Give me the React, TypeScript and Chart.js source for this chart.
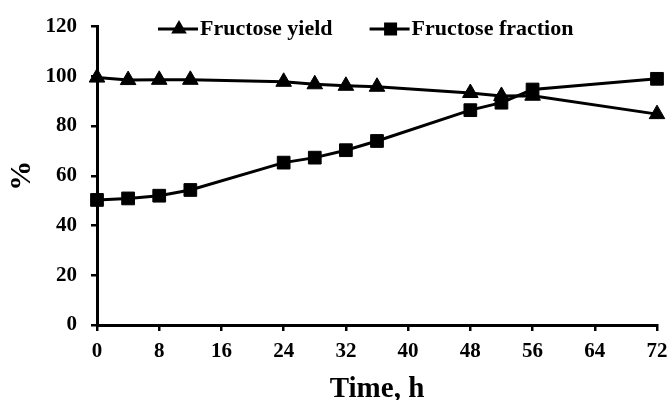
import React, { useEffect, useRef } from 'react';
import { Chart, registerables } from 'chart.js';

Chart.register(...registerables);

const timeHours = [0, 4, 8, 12, 24, 28, 32, 36, 48, 52, 56, 72];
const fructoseYield = [99.5, 98.5, 98.6, 98.6, 97.8, 96.8, 96.2, 95.8, 93.3, 92.1, 92.2, 84.8];
const fructoseFraction = [50.3, 50.9, 52.0, 54.3, 65.3, 67.3, 70.3, 74.0, 86.4, 89.4, 94.7, 99.0];
const seriesLabels = ['Fructose yield', 'Fructose fraction'];
const seriesMarkers = ['triangle', 'rect'];
const xTicks = [0, 8, 16, 24, 32, 40, 48, 56, 64, 72];
const yTicks = [0, 20, 40, 60, 80, 100, 120];
const xTitle = 'Time, h';
const yTitle = '%';

const FONT = "'Liberation Serif', 'Times New Roman', serif";

function drawMarker(ctx: CanvasRenderingContext2D, style: string, x: number, y: number) {
  ctx.beginPath();
  if (style === 'triangle') {
    const r = 9;
    ctx.moveTo(x, y - r);
    ctx.lineTo(x + r * Math.sin((2 * Math.PI) / 3), y - r * Math.cos((2 * Math.PI) / 3));
    ctx.lineTo(x + r * Math.sin((4 * Math.PI) / 3), y - r * Math.cos((4 * Math.PI) / 3));
    ctx.closePath();
  } else {
    const s = 6.5;
    ctx.rect(x - s, y - s, 2 * s, 2 * s);
  }
  ctx.fill();
}

const legendPlugin = {
  id: 'lineMarkerLegend',
  afterDraw(chart: any) {
    const ctx: CanvasRenderingContext2D = chart.ctx;
    const y = 29;
    let x = 158;
    ctx.save();
    ctx.font = `bold 22px ${FONT}`;
    ctx.textBaseline = 'middle';
    ctx.textAlign = 'left';
    ctx.fillStyle = '#000';
    ctx.strokeStyle = '#000';
    chart.data.datasets.forEach((ds: any) => {
      ctx.lineWidth = 3;
      ctx.beginPath();
      ctx.moveTo(x, y);
      ctx.lineTo(x + 40, y);
      ctx.stroke();
      drawMarker(ctx, ds.pointStyle, x + 21, y);
      const tx = x + 42;
      ctx.fillText(ds.label, tx, y);
      x = tx + ctx.measureText(ds.label).width + 37;
    });
    ctx.restore();
  },
};

export default function App() {
  const canvasRef = useRef<HTMLCanvasElement | null>(null);

  useEffect(() => {
    document.body.style.margin = '0';
    const canvas = canvasRef.current;
    if (!canvas) return;
    const series = [fructoseYield, fructoseFraction];
    const chart = new Chart(canvas, {
      type: 'line',
      data: {
        datasets: series.map((vals, i) => ({
          label: seriesLabels[i],
          data: timeHours.map((t, j) => ({ x: t, y: vals[j] })),
          borderColor: '#000',
          backgroundColor: '#000',
          borderWidth: 3,
          pointStyle: seriesMarkers[i] as any,
          pointRadius: 9,
          pointBorderWidth: 1,
          pointBackgroundColor: '#000',
          pointBorderColor: '#000',
          tension: 0,
          clip: false as any,
          order: i === 0 ? 1 : 0,
        })),
      },
      options: {
        animation: false,
        responsive: true,
        maintainAspectRatio: false,
        layout: { padding: { top: 25, right: 12, left: 0, bottom: 0 } },
        plugins: {
          legend: { display: false },
          tooltip: { enabled: false },
        },
        scales: {
          x: {
            type: 'linear',
            min: 0,
            max: 72,
            afterBuildTicks: (s: any) => {
              s.ticks = xTicks.map((v) => ({ value: v }));
            },
            afterFit: (s: any) => {
              s.height = 75;
              s.paddingRight = 0;
              s.paddingLeft = 0;
            },
            grid: {
              display: true,
              drawOnChartArea: false,
              drawTicks: true,
              tickLength: 6,
              color: '#000',
              lineWidth: 2.5,
            },
            border: { display: true, color: '#000', width: 3 },
            ticks: {
              autoSkip: false,
              maxRotation: 0,
              padding: 8,
              color: '#000',
              font: { family: FONT, size: 21, weight: 'bold' },
            },
            title: {
              display: true,
              text: xTitle,
              color: '#000',
              padding: { top: 0, bottom: -4 },
              font: { family: FONT, size: 29, weight: 'bold', lineHeight: 1 },
            },
          },
          y: {
            type: 'linear',
            min: 0,
            max: 120,
            afterBuildTicks: (s: any) => {
              s.ticks = yTicks.map((v) => ({ value: v }));
            },
            afterFit: (s: any) => {
              s.width = 97;
            },
            grid: {
              display: true,
              drawOnChartArea: false,
              drawTicks: true,
              tickLength: 6,
              color: '#000',
              lineWidth: 2.5,
            },
            border: { display: true, color: '#000', width: 3 },
            ticks: {
              autoSkip: false,
              padding: 14,
              color: '#000',
              font: { family: FONT, size: 21, weight: 'bold' },
            },
            title: {
              display: true,
              text: yTitle,
              color: '#000',
              padding: { top: 4, bottom: 0 },
              font: { family: FONT, size: 30, weight: 'bold', lineHeight: 1.2 },
            },
          },
        },
      },
      plugins: [legendPlugin],
    });
    return () => chart.destroy();
  }, []);

  return (
    <div style={{ position: 'relative', width: 669, height: 400, background: '#fff' }}>
      <canvas ref={canvasRef} />
    </div>
  );
}
